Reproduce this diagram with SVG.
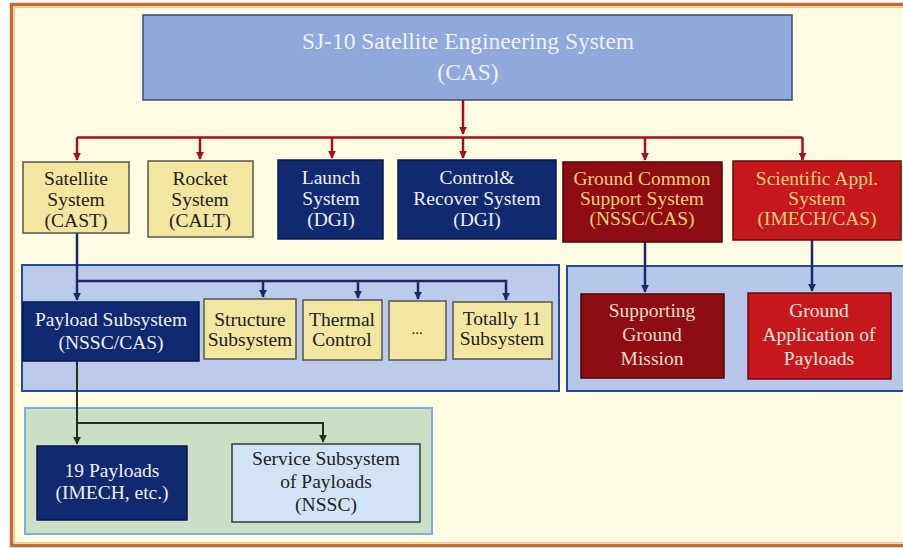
<svg xmlns="http://www.w3.org/2000/svg" width="903" height="548" viewBox="0 0 903 548">
<defs>
<style>
text{font-family:"Liberation Serif","Times New Roman",serif;font-size:19.5px;text-anchor:middle}
text.title{font-size:23.5px;fill:#eef2fb}
text.dots{font-size:15px}
.yel rect{fill:#f1e7a3;stroke:#55564a;stroke-width:1.5}
.yel text{fill:#222}
.nav rect{fill:#0f2a70;stroke:#0a1a48;stroke-width:1.5}
.nav text{fill:#eef0fa}
.drk rect{fill:#8e0d12;stroke:#4a0608;stroke-width:1.5}
.red rect{fill:#c5181d;stroke:#6a0a0c;stroke-width:1.5}
.gold{fill:#f3cf7c}
.pale{fill:#f7dccb}
.rl{stroke:#a50f1a;stroke-width:2.5;fill:none}
.nl{stroke:#1a2a66;stroke-width:2.5;fill:none}
.gl{stroke:#1e3320;stroke-width:2;fill:none}
</style>
<marker id="ar" viewBox="0 0 10 10" refX="9" refY="5" markerWidth="3.2" markerHeight="3.2" orient="auto" markerUnits="strokeWidth"><path d="M0,0 L10,5 L0,10 z" fill="#a50f1a"/></marker>
<marker id="an" viewBox="0 0 10 10" refX="9" refY="5" markerWidth="3.2" markerHeight="3.2" orient="auto" markerUnits="strokeWidth"><path d="M0,0 L10,5 L0,10 z" fill="#1a2a66"/></marker>
<marker id="ag" viewBox="0 0 10 10" refX="9" refY="5" markerWidth="4" markerHeight="4" orient="auto" markerUnits="strokeWidth"><path d="M0,0 L10,5 L0,10 z" fill="#1e3320"/></marker>
</defs>
<rect x="0" y="0" width="903" height="548" fill="#ffffff"/>
<rect x="11.5" y="4.5" width="900" height="541" fill="#fdfbe1" stroke="#c9692a" stroke-width="3.5"/>
<rect x="14.5" y="7.5" width="900" height="535" fill="none" stroke="#efc79a" stroke-width="1"/>

<g id="panels">
<rect x="22" y="265" width="537" height="126" fill="#bccbec" stroke="#2b4896" stroke-width="2"/>
<rect x="567" y="266" width="345" height="125" fill="#b6c7ea" stroke="#2b4896" stroke-width="2"/>
<rect x="25" y="408" width="407" height="126" fill="#cadfc6" stroke="#7eaede" stroke-width="2"/>
</g>

<g id="top">
<rect x="143" y="15" width="649" height="85" fill="#8fa9da" stroke="#3d4d6e" stroke-width="1.5"/>
<text class="title" x="468" y="49">SJ-10 Satellite Engineering System</text>
<text class="title" x="468" y="80">(CAS)</text>
</g>

<g id="connectors">
<path class="rl" d="M463,100 V134" marker-end="url(#ar)"/>
<path class="rl" d="M77,137.5 H802.5"/>
<path class="rl" d="M77,137.5 V160" marker-end="url(#ar)"/>
<path class="rl" d="M200,137.5 V159" marker-end="url(#ar)"/>
<path class="rl" d="M332,137.5 V158" marker-end="url(#ar)"/>
<path class="rl" d="M463,137.5 V158" marker-end="url(#ar)"/>
<path class="rl" d="M645,137.5 V160" marker-end="url(#ar)"/>
<path class="rl" d="M802.5,137.5 V160" marker-end="url(#ar)"/>
<path class="nl" d="M77,233 V300" marker-end="url(#an)"/>
<path class="nl" d="M77,281 H506 V300" marker-end="url(#an)"/>
<path class="nl" d="M263,281 V297" marker-end="url(#an)"/>
<path class="nl" d="M358,281 V298" marker-end="url(#an)"/>
<path class="nl" d="M418,281 V299" marker-end="url(#an)"/>
<path class="nl" d="M645,242 V292" marker-end="url(#an)"/>
<path class="nl" d="M812,240 V291" marker-end="url(#an)"/>
<path class="gl" d="M77,361 V444" marker-end="url(#ag)"/>
<path class="gl" d="M77,423 H323 V442" marker-end="url(#ag)"/>
</g>

<g id="satellite" class="yel"><rect x="23" y="162" width="106" height="71"/>
<text x="76" y="185">Satellite</text><text x="76" y="206">System</text><text x="76" y="227">(CAST)</text></g>
<g id="rocket" class="yel"><rect x="148" y="161" width="105" height="76"/>
<text x="200" y="185">Rocket</text><text x="200" y="206">System</text><text x="200" y="227">(CALT)</text></g>
<g id="launch" class="nav"><rect x="278" y="160" width="105" height="79"/>
<text x="331" y="184">Launch</text><text x="331" y="205">System</text><text x="331" y="226">(DGI)</text></g>
<g id="control" class="nav"><rect x="398" y="160" width="158" height="79"/>
<text x="477" y="184">Control&amp;</text><text x="477" y="205">Recover System</text><text x="477" y="226">(DGI)</text></g>
<g id="groundcommon" class="drk"><rect x="563" y="162" width="159" height="80"/>
<text class="gold" x="642" y="185">Ground Common</text><text class="gold" x="642" y="205">Support System</text><text class="gold" x="642" y="225">(NSSC/CAS)</text></g>
<g id="scientific" class="red"><rect x="733" y="161" width="168" height="79"/>
<text class="gold" x="817" y="185">Scientific Appl.</text><text class="gold" x="817" y="205">System</text><text class="gold" x="817" y="225">(IMECH/CAS)</text></g>

<g id="payload" class="nav"><rect x="23" y="302" width="176" height="59"/>
<text x="111" y="326">Payload Subsystem</text><text x="111" y="349">(NSSC/CAS)</text></g>
<g id="structure" class="yel"><rect x="204" y="299" width="92" height="60"/>
<text x="250" y="326">Structure</text><text x="250" y="346">Subsystem</text></g>
<g id="thermal" class="yel"><rect x="303" y="300" width="79" height="60"/>
<text x="342" y="326">Thermal</text><text x="342" y="346">Control</text></g>
<g id="dots" class="yel"><rect x="389" y="301" width="57" height="59"/>
<text class="dots" x="417" y="334">...</text></g>
<g id="totally" class="yel"><rect x="453" y="302" width="99" height="57"/>
<text x="502" y="325">Totally 11</text><text x="502" y="345">Subsystem</text></g>

<g id="supporting" class="drk"><rect x="581" y="294" width="143" height="84"/>
<text class="pale" x="652" y="317">Supporting</text><text class="pale" x="652" y="341">Ground</text><text class="pale" x="652" y="365">Mission</text></g>
<g id="groundapp" class="red"><rect x="748" y="293" width="143" height="86"/>
<text fill="#f8e6dc" x="819" y="317">Ground</text><text fill="#f8e6dc" x="819" y="341">Application of</text><text fill="#f8e6dc" x="819" y="365">Payloads</text></g>

<g id="payloads19" class="nav"><rect x="37" y="446" width="150" height="74"/>
<text x="112" y="477">19 Payloads</text><text x="112" y="499">(IMECH, etc.)</text></g>
<g id="service"><rect x="232" y="444" width="188" height="78" fill="#d2e3f3" stroke="#2e3e36" stroke-width="1.5"/>
<text x="326" y="465" fill="#222">Service Subsystem</text><text x="326" y="488" fill="#222">of Payloads</text><text x="326" y="511" fill="#222">(NSSC)</text></g>
</svg>
